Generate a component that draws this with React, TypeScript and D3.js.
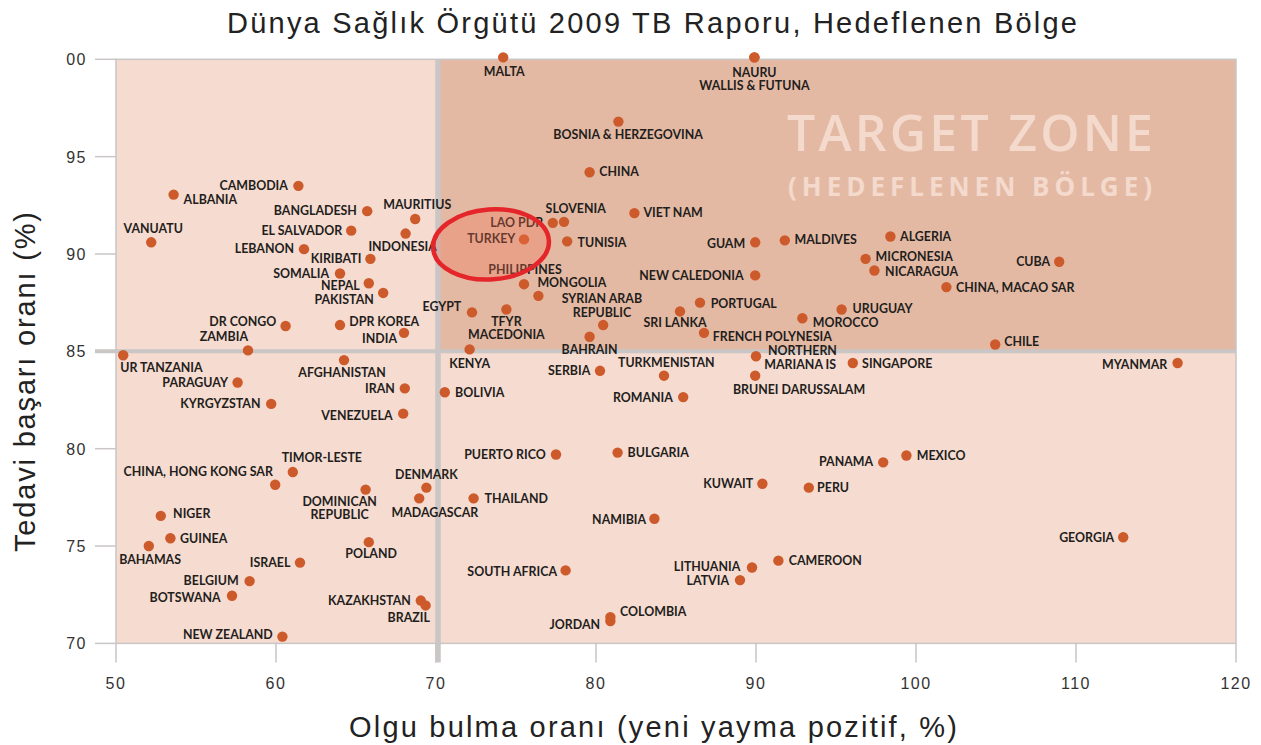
import React from 'react';
import * as d3 from 'd3';

const countries = [
  'CAMBODIA', 'ALBANIA', 'BANGLADESH', 'MAURITIUS', 'EL SALVADOR', 'INDONESIA', 'VANUATU', 'LEBANON',
  'KIRIBATI', 'SOMALIA', 'NEPAL', 'PAKISTAN', 'DR CONGO', 'DPR KOREA', 'INDIA', 'ZAMBIA', 'UR TANZANIA',
  'AFGHANISTAN', 'PARAGUAY', 'IRAN', 'KYRGYZSTAN', 'VENEZUELA', 'TIMOR-LESTE', 'CHINA, HONG KONG SAR',
  'DOMINICAN REPUBLIC', 'DENMARK', 'MADAGASCAR', 'NIGER', 'GUINEA', 'BAHAMAS', 'POLAND', 'ISRAEL',
  'BELGIUM', 'BOTSWANA', 'KAZAKHSTAN', 'BRAZIL', 'NEW ZEALAND', 'MALTA', 'NAURU', 'WALLIS & FUTUNA',
  'BOSNIA & HERZEGOVINA', 'CHINA', 'SLOVENIA', 'LAO PDR', 'VIET NAM', 'TURKEY', 'TUNISIA', 'GUAM',
  'MALDIVES', 'PHILIPPINES', 'MONGOLIA', 'NEW CALEDONIA', 'EGYPT', 'TFYR MACEDONIA', 'SYRIAN ARAB REPUBLIC',
  'BAHRAIN', 'PORTUGAL', 'SRI LANKA', 'FRENCH POLYNESIA', 'MOROCCO', 'URUGUAY', 'KENYA', 'SERBIA',
  'TURKMENISTAN', 'NORTHERN MARIANA IS', 'BRUNEI DARUSSALAM', 'BOLIVIA', 'ROMANIA', 'PUERTO RICO',
  'BULGARIA', 'KUWAIT', 'PERU', 'THAILAND', 'NAMIBIA', 'SOUTH AFRICA', 'LITHUANIA', 'LATVIA', 'CAMEROON',
  'JORDAN', 'COLOMBIA', 'ALGERIA', 'MICRONESIA', 'NICARAGUA', 'CUBA', 'CHINA, MACAO SAR', 'CHILE',
  'SINGAPORE', 'MYANMAR', 'MEXICO', 'PANAMA', 'GEORGIA',
];

// Olgu bulma oranı (case detection rate, %)
const detectionRate = [
  61.4, 53.6, 65.7, 68.7, 64.7, 68.1, 52.2, 61.75,
  65.9, 64.0, 65.8, 66.7, 60.6, 64.0, 68.0, 58.25, 50.45,
  64.25, 57.6, 68.05, 59.7, 67.95, 61.05, 59.95,
  65.6, 69.4, 68.95, 52.8, 53.4, 52.05, 65.8, 61.5,
  58.35, 57.25, 69.05, 69.35, 60.4, 74.2, 89.9, 89.9,
  81.4, 79.6, 78.0, 77.3, 82.4, 75.5, 78.2, 89.95,
  91.8, 75.5, 76.4, 89.95, 72.25, 74.4, 80.45,
  79.6, 86.5, 85.25, 86.75, 92.9, 95.35, 72.1, 80.25,
  84.25, 90.0, 89.95, 70.55, 85.45, 77.5,
  81.35, 90.4, 93.3, 72.35, 83.65, 78.1, 89.75, 89.0, 91.4,
  80.9, 80.9, 98.4, 96.85, 97.4, 108.95, 101.9, 104.95,
  96.05, 116.35, 99.4, 97.95, 112.95,
];

// Tedavi başarı oranı (treatment success rate, %)
const treatmentSuccess = [
  93.5, 93.05, 92.2, 91.8, 91.2, 91.05, 90.6, 90.25,
  89.75, 89.0, 88.5, 88.0, 86.3, 86.35, 85.95, 85.05, 84.8,
  84.55, 83.4, 83.1, 82.3, 81.8, 78.8, 78.15,
  77.9, 78.0, 77.45, 76.55, 75.4, 75.0, 75.2, 74.15,
  73.2, 72.45, 72.2, 71.95, 70.35, 100.1, 100.1, 100.1,
  96.8, 94.2, 91.65, 91.6, 92.1, 90.75, 90.65, 90.6,
  90.7, 88.45, 87.85, 88.9, 87.0, 87.15, 86.35,
  85.75, 87.5, 87.05, 85.95, 86.7, 87.15, 85.1, 84.0,
  83.75, 84.75, 83.75, 82.9, 82.65, 79.7,
  79.8, 78.2, 78.0, 77.45, 76.4, 73.75, 73.9, 73.25, 74.25,
  71.15, 71.35, 90.9, 89.75, 89.15, 89.6, 88.3, 85.35,
  84.4, 84.4, 79.65, 79.3, 75.45,
];

const xTicks = [50, 60, 70, 80, 90, 100, 110, 120];
const yTicks = [70, 75, 80, 85, 90, 95, 100];
const yTickLabels = ['70', '75', '80', '85', '90', '95', '00'];
const targetDetection = 70;
const targetSuccess = 85;
const highlighted = 'TURKEY';

const titleText = 'Dünya Sağlık Örgütü 2009 TB Raporu, Hedeflenen Bölge';
const xAxisLabel = 'Olgu bulma oranı (yeni yayma pozitif, %)';
const yAxisLabel = 'Tedavi başarı oranı (%)';
const zoneTitle = 'TARGET ZONE';
const zoneSubtitle = '(HEDEFLENEN BÖLGE)';

// label placement (anchor, dx, dy baseline); optional 2nd line: brk words, dx2, dy2
type LP = { a: 'start' | 'end' | 'middle'; dx: number; dy: number; brk?: number; dx2?: number; dy2?: number };
const S = (dx: number, dy: number): LP => ({ a: 'start', dx, dy });
const E = (dx: number, dy: number): LP => ({ a: 'end', dx, dy });
const Mi = (dx: number, dy: number): LP => ({ a: 'middle', dx, dy });
const labelLayout: Record<string, LP> = {
  'CAMBODIA': E(-10.5, 4.6), 'ALBANIA': S(10, 8.9), 'BANGLADESH': E(-10.3, 3.6), 'MAURITIUS': Mi(2, -10.4),
  'EL SALVADOR': E(-9, 4.3), 'INDONESIA': Mi(-3, 17), 'VANUATU': Mi(2, -9), 'LEBANON': E(-10, 4.3),
  'KIRIBATI': E(-9, 4.3), 'SOMALIA': E(-11, 4.3), 'NEPAL': E(-9, 6.6), 'PAKISTAN': E(-9.4, 10.6),
  'DR CONGO': E(-9.3, 0), 'DPR KOREA': S(9.3, 0.7), 'INDIA': E(-7, 10.3), 'ZAMBIA': E(0, -9.1),
  'UR TANZANIA': S(-3, 17), 'AFGHANISTAN': Mi(-2, 16.7), 'PARAGUAY': E(-9.6, 4.3), 'IRAN': E(-10, 4.3),
  'KYRGYZSTAN': E(-10.7, 4.3), 'VENEZUELA': E(-10.7, 6.3), 'TIMOR-LESTE': Mi(29, -10.1),
  'CHINA, HONG KONG SAR': E(-2.3, -8.3),
  'DOMINICAN REPUBLIC': { a: 'middle', dx: -26, dy: 16.6, brk: 1, dx2: -26, dy2: 29.6 },
  'DENMARK': Mi(0, -8.3), 'MADAGASCAR': Mi(15.7, 18.6), 'NIGER': S(12.3, 2.3), 'GUINEA': S(9.7, 4.6),
  'BAHAMAS': Mi(1.3, 17.6), 'POLAND': Mi(2.3, 15.9), 'ISRAEL': E(-9.6, 4), 'BELGIUM': E(-11, 4.3),
  'BOTSWANA': E(-11.3, 6), 'KAZAKHSTAN': E(-10, 4.3), 'BRAZIL': E(4.3, 17), 'NEW ZEALAND': E(-9.6, 2),
  'MALTA': Mi(1, 18.9), 'NAURU': Mi(0, 19.6), 'WALLIS & FUTUNA': Mi(0, 32.3),
  'BOSNIA & HERZEGOVINA': Mi(9.7, 17.6), 'CHINA': S(9.7, 4), 'SLOVENIA': Mi(11.7, -8.7),
  'LAO PDR': E(-9.7, 4.3), 'VIET NAM': S(9, 4), 'TURKEY': E(-8.6, 4), 'TUNISIA': S(10.3, 5.3),
  'GUAM': E(-10, 5.3), 'MALDIVES': S(9.7, 3.6), 'PHILIPPINES': Mi(1, -9.7), 'MONGOLIA': S(-1, -8.4),
  'NEW CALEDONIA': E(-11.7, 4.6), 'EGYPT': E(-10.7, -1.3),
  'TFYR MACEDONIA': { a: 'middle', dx: 0, dy: 16.3, brk: 1, dx2: 0, dy2: 29.6 },
  'SYRIAN ARAB REPUBLIC': { a: 'middle', dx: -1.3, dy: -21.7, brk: 2, dx2: -1.3, dy2: -8.3 },
  'BAHRAIN': Mi(0, 17.3), 'PORTUGAL': S(10.7, 5), 'SRI LANKA': Mi(-5, 15.6), 'FRENCH POLYNESIA': S(8.7, 8.3),
  'MOROCCO': S(10.4, 8.7), 'URUGUAY': S(11, 4), 'KENYA': Mi(0, 18.3), 'SERBIA': E(-9.7, 4),
  'TURKMENISTAN': Mi(2.3, -8.7),
  'NORTHERN MARIANA IS': { a: 'start', dx: 12, dy: -1.1, brk: 1, dx2: 8.3, dy2: 12.6 },
  'BRUNEI DARUSSALAM': S(-22.3, 18.6), 'BOLIVIA': S(10.3, 4.6), 'ROMANIA': E(-10.3, 5.3),
  'PUERTO RICO': E(-10.3, 4.3), 'BULGARIA': S(10, 4), 'KUWAIT': E(-9.3, 4), 'PERU': S(8.3, 4.3),
  'THAILAND': S(11, 4.3), 'NAMIBIA': E(-8.3, 5.3), 'SOUTH AFRICA': E(-8.6, 5.3), 'LITHUANIA': E(-11.7, 3.7),
  'LATVIA': E(-11, 5.3), 'CAMEROON': S(10.3, 4), 'JORDAN': E(-10.3, 8), 'COLOMBIA': S(9.7, -0.7),
  'ALGERIA': S(9.7, 5), 'MICRONESIA': S(10, 2.3), 'NICARAGUA': S(10.7, 5), 'CUBA': E(-9, 4.6),
  'CHINA, MACAO SAR': S(9.7, 5.3), 'CHILE': S(9, 1), 'SINGAPORE': S(9.3, 5), 'MYANMAR': E(-10.3, 6),
  'MEXICO': S(10.3, 4), 'PANAMA': E(-10, 4), 'GEORGIA': E(-9, 5),
};

const W = 1261;
const H = 745;

export default function App() {
  const x = d3.scaleLinear().domain([50, 120]).range([116, 1236]);
  const y = d3.scaleLinear().domain([70, 100]).range([643.4, 59.3]);
  const x0 = x(50), x1 = x(120), yTop = y(100), yBot = y(70);
  const xt = x(targetDetection), yt = y(targetSuccess);
  const gridGray = '#c9c6c5';
  const labelFont = 'Lato, "Open Sans", sans-serif';

  const points = countries.map((name, i) => ({ name, dx: detectionRate[i], ts: treatmentSuccess[i] }));
  const hi = points.find((p) => p.name === highlighted)!;

  return (
    <svg width={W} height={H} style={{ position: 'absolute', left: 0, top: 0, background: '#fff' }}
      fontFamily='"Liberation Sans", Arial, sans-serif'>
      {/* title */}
      <text x={652} y={33} textAnchor="middle" fontSize={29} fill="#222" textLength={850} lengthAdjust="spacing">{titleText}</text>

      {/* backgrounds */}
      <rect x={x0} y={yTop} width={x1 - x0} height={yBot - yTop} fill="#f6dbd0" />
      <rect x={xt} y={yTop} width={x1 - xt} height={yt - yTop} fill="#e4b9a4" />
      <rect x={x0} y={yTop} width={x1 - x0} height={yBot - yTop} fill="none" stroke={gridGray} strokeWidth={1.5} />

      {/* target zone text */}
      <text x={970} y={151} textAnchor="middle" fontFamily='"Open Sans", sans-serif' fontWeight={600} fontSize={50}
        fill="#f4d9cd" textLength={366} lengthAdjust="spacing">{zoneTitle}</text>
      <text x={970} y={196} textAnchor="middle" fontFamily='"Open Sans", sans-serif' fontWeight={700} fontSize={26}
        fill="#f4d9cd" textLength={364} lengthAdjust="spacing">{zoneSubtitle}</text>

      {/* ticks */}
      {xTicks.map((t) => (
        <g key={'xt' + t}>
          <line x1={x(t)} x2={x(t)} y1={yBot} y2={yBot + 19} stroke={gridGray} strokeWidth={1.5} />
          <text x={x(t)} y={689} textAnchor="middle" fontSize={16} fill="#333" letterSpacing={1.5}>{String(t)}</text>
        </g>
      ))}
      {yTicks.map((t, i) => (
        <g key={'yt' + t}>
          <line x1={95} x2={x0} y1={y(t)} y2={y(t)} stroke={gridGray} strokeWidth={1.5} />
          <text x={87} y={y(t) + 6} textAnchor="end" fontSize={16} fill="#333" letterSpacing={1.5}>{yTickLabels[i]}</text>
        </g>
      ))}

      {/* target dividers */}
      <line x1={95} x2={x1} y1={yt} y2={yt} stroke={gridGray} strokeWidth={4} />
      <line x1={xt + 2} x2={xt + 2} y1={yTop} y2={yBot + 19} stroke={gridGray} strokeWidth={5.5} />

      {/* points */}
      {points.map((p) => (
        <circle key={'c' + p.name} cx={x(p.dx)} cy={y(p.ts)} r={5.2} fill="#cd5a2a" />
      ))}
      {points.map((p) => {
        const lp = labelLayout[p.name] || E(-9, 4.3);
        const cx = x(p.dx), cy = y(p.ts);
        const common = { fontFamily: labelFont, fontWeight: 700, fontSize: 12.4, fill: '#231e1c', textAnchor: lp.a } as const;
        if (lp.brk) {
          const words = p.name.split(' ');
          const l1 = words.slice(0, lp.brk).join(' ');
          const l2 = words.slice(lp.brk).join(' ');
          return (
            <g key={'l' + p.name}>
              <text x={cx + lp.dx} y={cy + lp.dy} {...common}>{l1}</text>
              <text x={cx + (lp.dx2 ?? lp.dx)} y={cy + (lp.dy2 ?? lp.dy + 13)} {...common}>{l2}</text>
            </g>
          );
        }
        return <text key={'l' + p.name} x={cx + lp.dx} y={cy + lp.dy} {...common}>{p.name}</text>;
      })}

      {/* highlight ellipse */}
      <ellipse cx={x(hi.dx) - 33} cy={y(hi.ts) + 5} rx={58} ry={35} transform={`rotate(-4 ${x(hi.dx) - 33} ${y(hi.ts) + 5})`}
        fill="rgba(245,115,85,0.32)" stroke="#e4252a" strokeWidth={4.5} />

      {/* axis labels */}
      <text x={653} y={737} textAnchor="middle" fontSize={29} fill="#222" textLength={608} lengthAdjust="spacing">{xAxisLabel}</text>
      <text transform="translate(35,382) rotate(-90)" textAnchor="middle" fontSize={29} fill="#222" textLength={340} lengthAdjust="spacing">{yAxisLabel}</text>
    </svg>
  );
}
